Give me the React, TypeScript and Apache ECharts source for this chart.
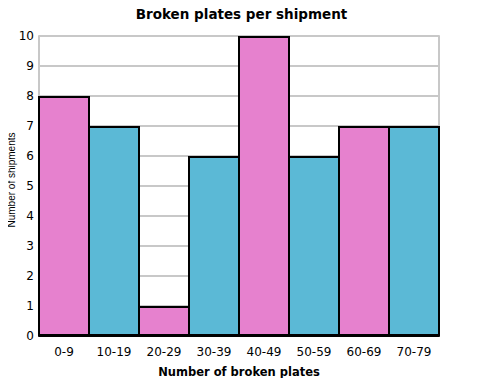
import React, { useEffect, useRef } from "react";
import * as echarts from "echarts";

const categories = ["0-9", "10-19", "20-29", "30-39", "40-49", "50-59", "60-69", "70-79"];
const shipments = [8, 7, 1, 6, 10, 6, 7, 7];
const barColors = ["#e681ce", "#5bb9d6"];

export default function App() {
  const ref = useRef<HTMLDivElement>(null);
  useEffect(() => {
    const chart = echarts.init(ref.current!, null, { renderer: "svg" });
    const font = "Verdana, 'DejaVu Sans', sans-serif";
    chart.setOption({
      animation: false,
      title: {
        text: "Broken plates per shipment",
        left: "center",
        top: 2,
        textStyle: { fontFamily: font, fontSize: 13.5, fontWeight: "bold", color: "#000" },
      },
      graphic: [
        {
          type: "text",
          x: 11,
          y: 180,
          rotation: Math.PI / 2,
          style: {
            text: "Number of shipments",
            fill: "#000",
            font: "10px 'Liberation Sans', Arial, sans-serif",
            align: "center",
            verticalAlign: "middle",
          },
        },
      ],
      grid: { left: 39, right: 44, top: 36, bottom: 50, containLabel: false, outerBoundsMode: "none" },
      xAxis: {
        type: "category",
        data: categories,
        name: "Number of broken plates",
        nameLocation: "middle",
        nameGap: 30,
        nameTextStyle: { fontFamily: font, fontSize: 11.5, fontWeight: "bold", color: "#000" },
        axisLine: { show: true, lineStyle: { color: "#000", width: 2 } },
        axisTick: { show: false },
        axisLabel: { fontFamily: font, fontSize: 12, color: "#000", margin: 10 },
      },
      yAxis: [
        {
          type: "value",
          min: 0,
          max: 10,
          interval: 1,
          axisLine: { show: true, lineStyle: { color: "#c8c8c8", width: 2 } },
          axisTick: { show: false },
          axisLabel: { fontFamily: font, fontSize: 12, color: "#000", margin: 5 },
          splitLine: { show: true, lineStyle: { color: "#c8c8c8", width: 2 } },
        },
        {
          type: "value",
          min: 0,
          max: 10,
          interval: 1,
          position: "right",
          axisLine: { show: true, lineStyle: { color: "#c8c8c8", width: 2 } },
          axisTick: { show: false },
          axisLabel: { show: false },
          splitLine: { show: false },
        },
      ],
      series: [
        {
          type: "bar",
          yAxisIndex: 0,
          barWidth: 52,
          barCategoryGap: "0%",
          data: shipments.map((v, i) => ({
            value: v,
            itemStyle: { color: barColors[i % 2] },
          })),
          itemStyle: { borderColor: "#000", borderWidth: 2 },
        },
      ],
    });
    return () => chart.dispose();
  }, []);
  return <div ref={ref} style={{ width: 483, height: 386, margin: -8 }} />;
}
